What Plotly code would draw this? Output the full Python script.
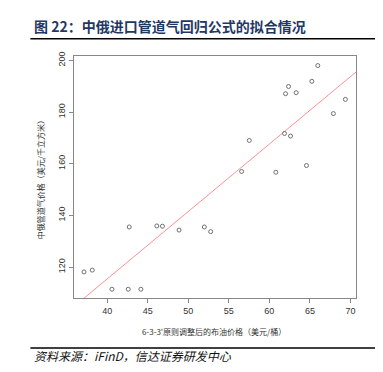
import numpy as np
import plotly.graph_objects as go

# Brent price adjusted by 6-3-3' rule (USD/bbl)
brent = [37.13, 38.15, 40.58, 42.59, 44.15, 42.71, 46.12, 46.81, 48.86, 51.98, 52.76,
         56.58, 57.52, 60.80, 61.87, 62.61, 64.58, 62.00, 62.37, 63.31, 65.24, 65.98,
         67.90, 69.38]
# Russia-China pipeline gas price (USD/1000 m3)
gas = [118.1, 118.8, 111.4, 111.4, 111.4, 135.5, 135.9, 135.8, 134.3, 135.5, 133.7,
       157.0, 169.0, 156.7, 171.7, 170.7, 159.3, 187.1, 189.9, 187.5, 191.9, 198.0,
       179.4, 184.9]
# fitted regression line: gas = intercept + slope * brent
fit_intercept = 11.0
fit_slope = 2.61

x_ticks = [40, 45, 50, 55, 60, 65, 70]
y_ticks = [120, 140, 160, 180, 200]
x_range = [35.9, 70.69]
y_range = [108.0, 201.7]

title_text = "图 22：中俄进口管道气回归公式的拟合情况"
source_text = "资料来源：iFinD，信达证券研发中心"
x_title = "6-3-3'原则调整后的布油价格（美元/桶）"
y_title = "中俄管道气价格（美元/千立方米）"

line_x = np.array(x_range)
line_y = fit_intercept + fit_slope * line_x

fig = go.Figure()
fig.add_trace(go.Scatter(x=line_x, y=line_y, mode="lines",
                         line=dict(color="#ff9090", width=1), hoverinfo="skip"))
fig.add_trace(go.Scatter(x=brent, y=gas, mode="markers",
                         marker=dict(symbol="circle-open", size=4, color="#707070",
                                     line=dict(width=1))))

W, H = 383, 372
L, R, T, B = 65.7, 348.3, 48.3, 290.0
pw, ph = R - L, B - T

def px(x):
    return (x - L) / pw

def py(y):
    return (B - y) / ph

axis_common = dict(showgrid=False, zeroline=False, showline=True, mirror=True,
                   linecolor="#888888", linewidth=1, ticks="outside", ticklen=4,
                   tickcolor="#888888",
                   tickfont=dict(family="Liberation Sans, Arial", size=9, color="#333333"))

fig.update_layout(
    width=W, height=H,
    margin=dict(l=L, r=W - R, t=T, b=H - B, pad=0),
    paper_bgcolor="white", plot_bgcolor="white",
    showlegend=False,
    xaxis=dict(range=x_range, tickvals=x_ticks, **axis_common),
    yaxis=dict(range=y_range, tickvals=y_ticks, tickangle=-90, **axis_common),
    shapes=[
        dict(type="line", xref="paper", yref="paper", x0=px(22), x1=px(372), y0=py(31), y1=py(31),
             line=dict(color="black", width=1.5)),
        dict(type="line", xref="paper", yref="paper", x0=px(22), x1=px(372), y0=py(340), y1=py(340),
             line=dict(color="black", width=1.5)),
    ],
    annotations=[
        dict(text="<b>" + title_text + "</b>", xref="paper", yref="paper", x=px(24), y=py(18),
             xanchor="left", yanchor="middle", showarrow=False,
             font=dict(family="Noto Sans CJK SC", size=14, color="#1f3864")),
        dict(text="<i>" + source_text + "</i>", xref="paper", yref="paper", x=px(24), y=py(347),
             xanchor="left", yanchor="middle", showarrow=False,
             font=dict(family="Noto Sans CJK SC", size=12, color="#111111")),
        dict(text=x_title, xref="paper", yref="paper", x=px(206), y=py(323),
             xanchor="center", yanchor="middle", showarrow=False,
             font=dict(family="Noto Sans CJK SC", size=8, color="#333333")),
        dict(text=y_title, xref="paper", yref="paper", x=px(32), y=py(170), textangle=-90,
             xanchor="center", yanchor="middle", showarrow=False,
             font=dict(family="Noto Sans CJK SC", size=8, color="#333333")),
    ],
)

fig.write_html("out.html")
